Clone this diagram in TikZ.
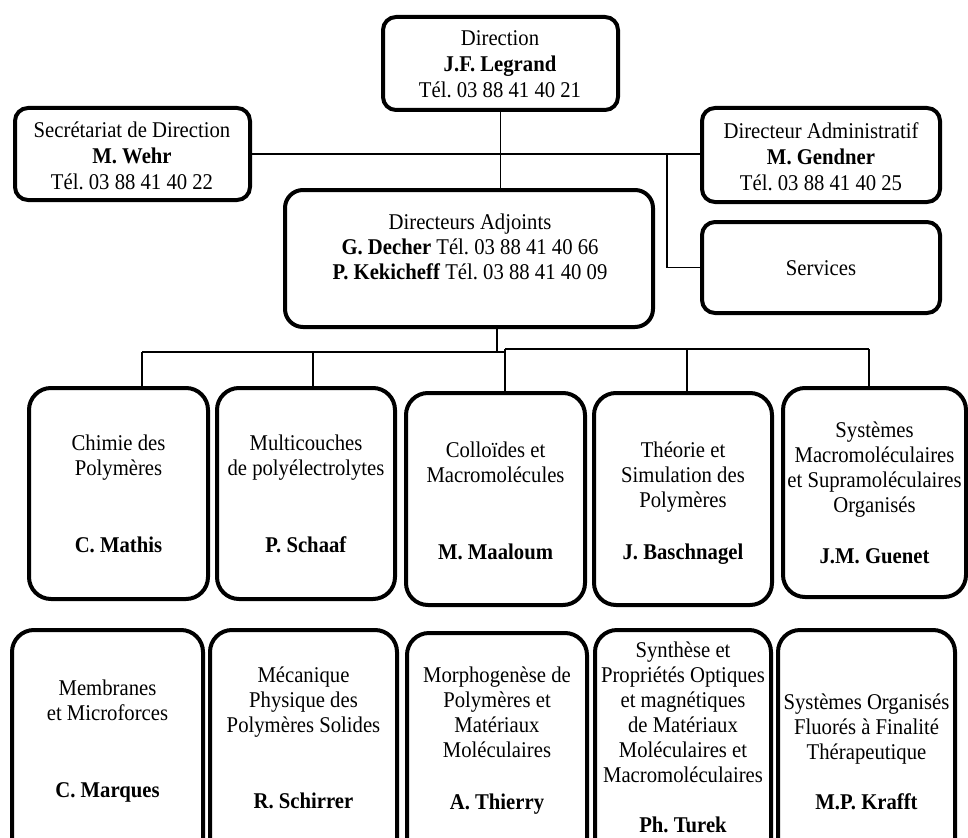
\documentclass[tikz,border=0pt]{standalone}
\usepackage{fontspec}
\setmainfont{Liberation Serif}[FakeStretch=0.92]
\frenchspacing
\begin{document}
\begin{tikzpicture}[x=1pt,y=-1pt,
  box/.style={draw=black, line width=4pt, rounded corners=13pt, inner sep=0pt},
  unit/.style={draw=black, line width=4pt, rounded corners=22pt, inner sep=0pt},
  link/.style={draw=black, line width=1.3pt},
  txt/.style={font=\fontsize{22.5}{25}\selectfont, align=center, inner sep=0pt, anchor=north},
  toptxt/.style={font=\fontsize{22.5}{26}\selectfont, align=center, inner sep=0pt, anchor=north},
]
\useasboundingbox (0,0) rectangle (968,837);
\clip (0,0) rectangle (968,837);

% top level boxes
\node[box, minimum width=235pt, minimum height=93pt] (dir) at (500.5,63.5) {};
\node[box, minimum width=235pt, minimum height=92pt] (sec) at (132.5,154) {};
\node[box, minimum width=238pt, minimum height=94pt] (adm) at (821,155) {};
\node[box, minimum width=238pt, minimum height=91pt] (srv) at (821,267.5) {};
\node[box, minimum width=368pt, minimum height=137pt, rounded corners=18pt] (adj) at (469,258.5) {};

\node[toptxt] (dirT) at (500,30) {Direction\\\textbf{J.F. Legrand}\\Tél. 03 88 41 40 21};
\node[toptxt] (secT) at (132,122) {Secrétariat de Direction\\\textbf{M. Wehr}\\Tél. 03 88 41 40 22};
\node[toptxt] (admT) at (821,122) {Directeur Administratif\\\textbf{M. Gendner}\\Tél. 03 88 41 40 25};
\node[font=\fontsize{22.5}{25}\selectfont, inner sep=0pt] (srvT) at (821,268) {Services};
\node[txt] (adjT) at (470,214) {Directeurs Adjoints\\\textbf{G. Decher} Tél. 03 88 41 40 66\\\textbf{P. Kekicheff} Tél. 03 88 41 40 09};

% row 1
\node[unit, minimum width=179pt, minimum height=211pt] (r1a) at (118.5,493.5) {};
\node[unit, minimum width=178pt, minimum height=211pt] (r1b) at (306,493.5) {};
\node[unit, minimum width=179pt, minimum height=212pt] (r1c) at (495.5,499) {};
\node[unit, minimum width=178pt, minimum height=212pt] (r1d) at (683,499) {};
\node[unit, minimum width=183pt, minimum height=209pt] (r1e) at (874.5,492.5) {};

\node[txt] (r1aT) at (118.5,435) {Chimie des\\Polymères\\[52pt]\textbf{C. Mathis}};
\node[txt] (r1bT) at (306,435) {Multicouches\\de polyélectrolytes\\[52pt]\textbf{P. Schaaf}};
\node[txt] (r1cT) at (495.5,442) {Colloïdes et\\Macromolécules\\[52pt]\textbf{M. Maaloum}};
\node[txt] (r1dT) at (683,442) {Théorie et\\Simulation des\\Polymères\\[27pt]\textbf{J. Baschnagel}};
\node[txt] (r1eT) at (874.5,422) {Systèmes\\Macromoléculaires\\et Supramoléculaires\\Organisés\\[26pt]\textbf{J.M. Guenet}};

% row 2
\node[unit, minimum width=191pt, minimum height=240pt] (r2a) at (107.5,750) {};
\node[unit, minimum width=187pt, minimum height=240pt] (r2b) at (303.5,750) {};
\node[unit, minimum width=180pt, minimum height=238pt] (r2c) at (497,752) {};
\node[unit, minimum width=176pt, minimum height=240pt] (r2d) at (683,750) {};
\node[unit, minimum width=177pt, minimum height=240pt] (r2e) at (866.5,750) {};

\node[txt] (r2aT) at (107.5,680) {Membranes\\et Microforces\\[52pt]\textbf{C. Marques}};
\node[txt] (r2bT) at (303.5,667) {Mécanique\\Physique des\\Polymères Solides\\[51pt]\textbf{R. Schirrer}};
\node[txt] (r2cT) at (497,667) {Morphogenèse de\\Polymères et\\Matériaux\\Moléculaires\\[27pt]\textbf{A. Thierry}};
\node[txt] (r2dT) at (683,642) {Synthèse et\\Propriétés Optiques\\et magnétiques\\de Matériaux\\Moléculaires et\\Macromoléculaires\\[25pt]\textbf{Ph. Turek}};
\node[txt] (r2eT) at (866.5,694) {Systèmes Organisés\\Fluorés à Finalité\\Thérapeutique\\[25pt]\textbf{M.P. Krafft}};

% connectors
\coordinate (j) at (667,155);
\coordinate (bus) at (497,351);
\coordinate (t1) at (142,352);
\coordinate (t2) at (313,352);
\coordinate (t3) at (505,349);
\coordinate (t4) at (687,349);
\coordinate (t5) at (869,349);

\draw[link] (dir.south) -- (dir.south |- adj.north);
\draw[link] (sec.east) -- (sec.east -| adm.west);
\draw[link] (j) |- (srv.west);
\draw[link] (adj.south -| bus) -- (bus);
\draw[link] (t1) -- (t3 |- t1);
\draw[link] (t3) -- (t5);
\draw[link] (t1) -- (t1 |- r1a.north);
\draw[link] (t2) -- (t2 |- r1b.north);
\draw[link] (t3) -- (t3 |- r1c.north);
\draw[link] (t4) -- (t4 |- r1d.north);
\draw[link] (t5) -- (t5 |- r1e.north);
\end{tikzpicture}
\end{document}
